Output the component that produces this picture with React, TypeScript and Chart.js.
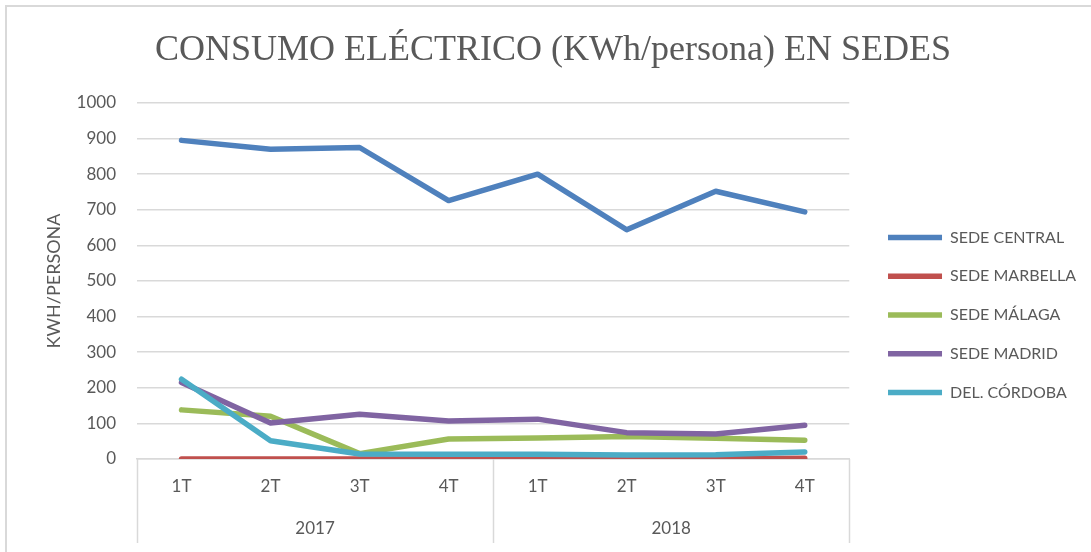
import React, { useEffect, useRef } from "react";
import { Chart, registerables } from "chart.js";

Chart.register(...registerables);

const TITLE = "CONSUMO ELÉCTRICO (KWh/persona) EN SEDES";
const Y_TITLE = "KWH/PERSONA";
const QUARTERS = ["1T", "2T", "3T", "4T", "1T", "2T", "3T", "4T"];
const YEARS = ["2017", "2018"];
const QUARTERS_PER_YEAR = [4, 4];
const SERIES_NAMES = ["SEDE CENTRAL", "SEDE MARBELLA", "SEDE MÁLAGA", "SEDE MADRID", "DEL. CÓRDOBA"];
const SEDE_CENTRAL = [895, 870, 875, 726, 800, 644, 752, 694];
const SEDE_MARBELLA = [0, 0, 0, 0, 0, 0, 1, 2];
const SEDE_MALAGA = [138, 120, 15, 56, 59, 63, 58, 53];
const SEDE_MADRID = [215, 101, 126, 107, 112, 74, 70, 95];
const DEL_CORDOBA = [224, 51, 14, 13, 13, 11, 12, 20];
const COLORS = ["#4f81bd", "#c0504d", "#9bbb59", "#8064a2", "#4bacc6"];
const Y_TICKS = { min: 0, max: 1000, step: 100 };

const TEXT = "#595959";
const GRID = "#d9d9d9";
const FONT = "Lato";

const separatorPlugin = {
  id: "yearSeparators",
  afterDraw(chart: any) {
    const x = chart.scales.x;
    const x2 = chart.scales.x2;
    if (!x || !x2) return;
    const ctx = chart.ctx;
    const xs: number[] = [x.left];
    let idx = 0;
    QUARTERS_PER_YEAR.forEach((n, i) => {
      idx += n;
      if (i < QUARTERS_PER_YEAR.length - 1) {
        xs.push((x.getPixelForTick(idx - 1) + x.getPixelForTick(idx)) / 2);
      }
    });
    xs.push(x.right);
    ctx.save();
    ctx.strokeStyle = GRID;
    ctx.lineWidth = 1.5;
    xs.forEach((px) => {
      const p = Math.round(px) + 0.5;
      ctx.beginPath();
      ctx.moveTo(p, chart.chartArea.bottom);
      ctx.lineTo(p, x2.bottom);
      ctx.stroke();
    });
    ctx.restore();
  },
};

export default function App() {
  const ref = useRef<HTMLCanvasElement | null>(null);
  useEffect(() => {
    if (!ref.current) return;
    const series = [SEDE_CENTRAL, SEDE_MARBELLA, SEDE_MALAGA, SEDE_MADRID, DEL_CORDOBA];
    const chart = new Chart(ref.current, {
      type: "line",
      data: {
        labels: QUARTERS,
        datasets: series.map((d, i) => ({
          label: SERIES_NAMES[i],
          data: d,
          borderColor: COLORS[i],
          backgroundColor: COLORS[i],
          borderWidth: 5.5,
          borderCapStyle: "round" as const,
          borderJoinStyle: "round" as const,
          pointRadius: 0,
          pointHoverRadius: 0,
          tension: 0,
          fill: false,
          order: series.length - i,
          xAxisID: "x",
          yAxisID: "y",
        })),
      },
      options: {
        responsive: false,
        animation: false,
        layout: { padding: { top: 0, left: 20, right: 5, bottom: 9 } },
        plugins: {
          title: {
            display: true,
            text: TITLE,
            color: TEXT,
            font: { family: "Liberation Serif", size: 36, weight: "normal", lineHeight: 1.2 },
            padding: { top: 29, bottom: 30.8 },
          },
          legend: {
            position: "right",
            fullSize: false,
            align: "center",
            maxWidth: 400,
            title: {
              display: true,
              text: "",
              font: { size: 12, lineHeight: 1.2 },
              padding: { top: 26.7, bottom: 26.7 },
            },
            labels: {
              color: TEXT,
              font: { family: FONT, size: 16 },
              usePointStyle: true,
              pointStyle: "line",
              pointStyleWidth: 54,
              padding: 22.75,
              sort: (a: any, b: any) => a.datasetIndex - b.datasetIndex,
            },
          },
          tooltip: { enabled: false },
        },
        scales: {
          x: {
            type: "category",
            position: "bottom",
            offset: true,
            weight: 0,
            grid: { display: false, drawTicks: false },
            border: { display: true, color: GRID, width: 1.5 },
            ticks: { color: TEXT, font: { family: FONT, size: 17 }, padding: 17.8, maxRotation: 0, autoSkip: false },
          },
          x2: {
            type: "category",
            position: "bottom",
            labels: YEARS,
            offset: true,
            weight: 1,
            grid: { display: false, drawTicks: false },
            border: { display: false },
            ticks: { color: TEXT, font: { family: FONT, size: 17 }, padding: 3.8, maxRotation: 0 },
          },
          y: {
            position: "left",
            min: Y_TICKS.min,
            max: Y_TICKS.max,
            afterFit: (s: any) => {
              s.width = 117;
            },
            ticks: {
              stepSize: Y_TICKS.step,
              color: TEXT,
              font: { family: FONT, size: 17 },
              padding: 21,
              callback: (v: any) => String(v),
            },
            grid: { color: GRID, lineWidth: 1.5, drawTicks: false },
            border: { display: false },
            title: {
              display: true,
              text: Y_TITLE,
              color: TEXT,
              font: { family: FONT, size: 18, lineHeight: 1.2 },
              padding: { top: 23, bottom: 0 },
            },
          },
          spacer: {
            type: "linear",
            position: "right",
            weight: 0,
            display: true,
            afterFit: (s: any) => {
              s.width = 16;
            },
            ticks: { display: false },
            grid: { display: false, drawTicks: false },
            border: { display: false },
          },
        },
      },
      plugins: [separatorPlugin],
    } as any);
    return () => chart.destroy();
  }, []);

  return (
    <>
      <div
        style={{
          position: "absolute",
          left: 5,
          top: 5,
          width: 1086,
          height: 547,
          borderLeft: `2px solid ${GRID}`,
          borderTop: `2px solid ${GRID}`,
          boxSizing: "border-box",
        }}
      />
      <canvas
        ref={ref}
        width={1091}
        height={552}
        style={{ position: "absolute", left: 0, top: 0, display: "block" }}
      />
    </>
  );
}
